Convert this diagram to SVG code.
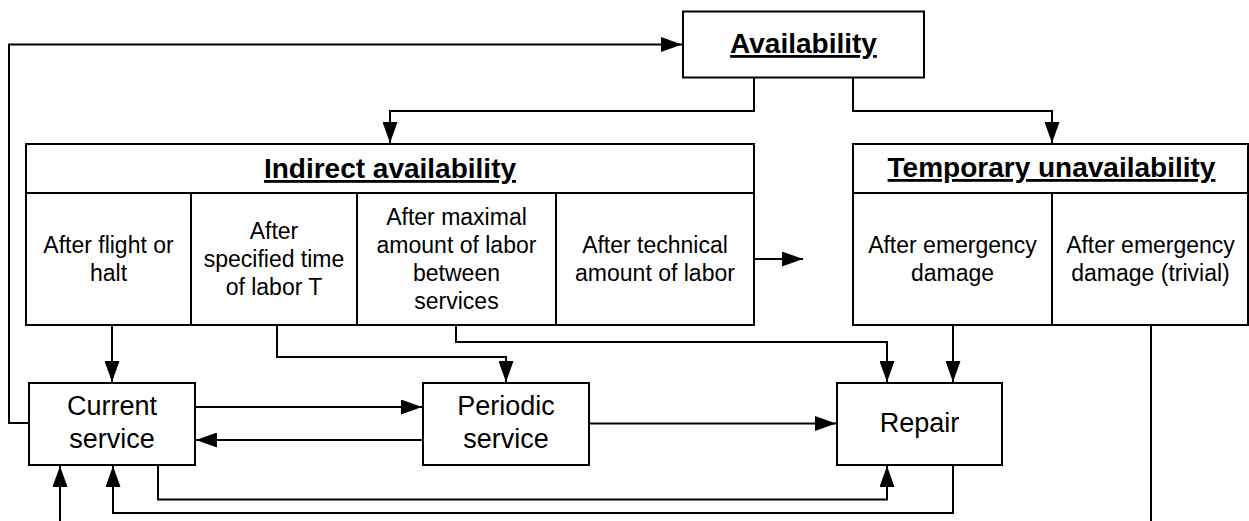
<svg xmlns="http://www.w3.org/2000/svg" width="1249" height="521" viewBox="0 0 1249 521">
<style>
.box{fill:#fff;stroke:#000;stroke-width:2}
.ln{fill:none;stroke:#000;stroke-width:2}
.t{font-family:"Liberation Sans",Arial,sans-serif;font-size:23px;fill:#000;text-anchor:middle}
.s{font-size:27px}
.h{font-family:"Liberation Sans",Arial,sans-serif;font-size:28px;font-weight:bold;fill:#000;text-anchor:middle;text-decoration:underline}
</style>
<defs>
<marker id="ah" markerUnits="userSpaceOnUse" markerWidth="21" markerHeight="15" refX="21" refY="7.5" orient="auto">
<path d="M0,0 L21,7.5 L0,15 z" fill="#000"/>
</marker>
</defs>
<rect width="1249" height="521" fill="#fff"/>
<g id="connectors">
<path class="ln" d="M29,423 H9 V44.5 H682" marker-end="url(#ah)"/>
<path class="ln" d="M754,77 V111 H390 V143" marker-end="url(#ah)"/>
<path class="ln" d="M853,77 V111 H1052 V143" marker-end="url(#ah)"/>
<path class="ln" d="M754,259 H803" marker-end="url(#ah)"/>
<path class="ln" d="M112,325 V382" marker-end="url(#ah)"/>
<path class="ln" d="M277,325 V357 H506 V382" marker-end="url(#ah)"/>
<path class="ln" d="M456,325 V342 H887 V382" marker-end="url(#ah)"/>
<path class="ln" d="M953,325 V382" marker-end="url(#ah)"/>
<path class="ln" d="M1151,325 V521"/>
<path class="ln" d="M60,521 V466" marker-end="url(#ah)"/>
<path class="ln" d="M195,407 H422" marker-end="url(#ah)"/>
<path class="ln" d="M423,440 H196" marker-end="url(#ah)"/>
<path class="ln" d="M589,423.5 H836" marker-end="url(#ah)"/>
<path class="ln" d="M158,465 V499.5 H887 V466" marker-end="url(#ah)"/>
<path class="ln" d="M953,465 V513 H113 V466" marker-end="url(#ah)"/>
</g>
<g id="availability">
<rect class="box" x="683" y="11.5" width="241" height="66"/>
<text class="h" x="803.5" y="53">Availability</text>
</g>
<g id="indirect-availability">
<rect class="box" x="26" y="144" width="728" height="181"/>
<path class="ln" d="M26,193 H754 M191,193 V325 M357,193 V325 M556,193 V325"/>
<text class="h" x="390" y="178">Indirect availability</text>
<text class="t" x="108.5" y="252.5">After flight or</text>
<text class="t" x="108.5" y="280.5">halt</text>
<text class="t" x="274" y="238.5">After</text>
<text class="t" x="274" y="266.5">specified time</text>
<text class="t" x="274" y="294.5">of labor T</text>
<text class="t" x="456.5" y="224.5">After maximal</text>
<text class="t" x="456.5" y="252.5">amount of labor</text>
<text class="t" x="456.5" y="280.5">between</text>
<text class="t" x="456.5" y="308.5">services</text>
<text class="t" x="655" y="252.5">After technical</text>
<text class="t" x="655" y="280.5">amount of labor</text>
</g>
<g id="temporary-unavailability">
<rect class="box" x="853" y="144" width="395" height="181"/>
<path class="ln" d="M853,193 H1248 M1052,193 V325"/>
<text class="h" x="1051.5" y="177">Temporary unavailability</text>
<text class="t" x="952.5" y="252.5">After emergency</text>
<text class="t" x="952.5" y="280.5">damage</text>
<text class="t" x="1150.5" y="252.5">After emergency</text>
<text class="t" x="1150.5" y="280.5">damage (trivial)</text>
</g>
<g id="current-service">
<rect class="box" x="29" y="383" width="166" height="82"/>
<text class="t s" x="112" y="415">Current</text>
<text class="t s" x="112" y="448">service</text>
</g>
<g id="periodic-service">
<rect class="box" x="423" y="383" width="166" height="82"/>
<text class="t s" x="506" y="415">Periodic</text>
<text class="t s" x="506" y="448">service</text>
</g>
<g id="repair">
<rect class="box" x="837" y="383" width="165" height="82"/>
<text class="t s" x="919.5" y="432">Repair</text>
</g>
</svg>
